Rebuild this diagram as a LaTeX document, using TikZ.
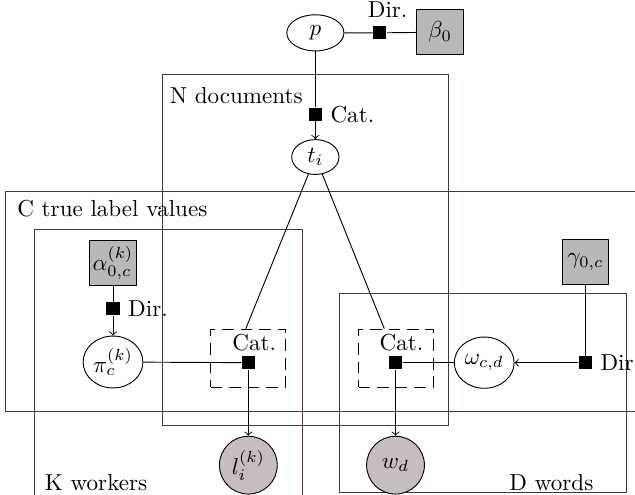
\documentclass[tikz,border=0pt]{standalone}
\usepackage{amsmath,amssymb}
\usepackage{tikz}
\usetikzlibrary{shapes.geometric}
\usetikzlibrary{arrows}

\definecolor{platecol}{RGB}{70,56,56}
\definecolor{hypfill}{RGB}{184,184,184}
\definecolor{obsfill}{RGB}{198,190,190}

\tikzset{
latent/.style={draw, ellipse, inner sep=0pt},
obs/.style={draw, circle, fill=obsfill, minimum size=0.88cm, inner sep=0pt},
hyper/.style={draw, rectangle, fill=hypfill, minimum width=0.71cm, minimum height=0.68cm, inner sep=0pt},
factor/.style={fill=black, rectangle, minimum size=0.2cm, inner sep=0pt},
plate/.style={draw=platecol},
gate/.style={draw, dash pattern=on 5pt off 3pt, minimum width=1.14cm, minimum height=0.88cm},
}

\begin{document}
\begin{tikzpicture}
\useasboundingbox (0,0) rectangle (9.665,-7.534);

\draw[plate] (2.47,-1.13) rectangle (6.82,-6.48);
\draw[plate] (0.09,-2.92) rectangle (9.9,-6.26);
\draw[plate] (0.53,-3.50) rectangle (4.61,-7.8);
\draw[plate] (5.16,-4.46) rectangle (9.54,-7.49);
\node[anchor=west] (ndocs) at (2.46,-1.45) {N documents};
\node[anchor=west] (clabels) at (0.14,-3.17) {C true label values};
\node[anchor=west] (kworkers) at (0.56,-7.34) {K workers};
\node[anchor=west] (dwords) at (7.63,-7.34) {D words};

% prior over the documents
\node[latent, minimum width=0.87cm, minimum height=0.55cm] (p) at (4.80,-0.50) {$p$};
\node[factor, label={[xshift=0.12cm]above:Dir.}] (fdir) at (5.78,-0.50) {};
\node[hyper] (beta) at (6.70,-0.49) {$\beta_0$};
\draw (p) -- (fdir) -- (beta);
\node[factor, label=right:{Cat.}] (fcat) at (4.80,-1.74) {};
\node[latent, minimum width=0.72cm, minimum height=0.53cm] (t) at (4.80,-2.39) {$t_i$};
\draw (p) -- (fcat);
\draw[->] (fcat) -- (t);

% workers
\node[hyper] (alpha) at (1.72,-4.00) {$\alpha_{0,c}^{(k)}$};
\node[factor, label=right:{Dir.}] (fdirl) at (1.72,-4.70) {};
\node[latent, minimum width=0.91cm, minimum height=0.79cm] (pi) at (1.72,-5.51) {$\pi_c^{(k)}$};
\draw (alpha) -- (fdirl);
\draw[->] (fdirl) -- (pi);
\node[gate] (gl) at (3.78,-5.45) {};
\node[factor] (fl) at (3.78,-5.52) {};
\node (catl) at (3.87,-5.21) {Cat.};
\node[obs] (l) at (3.78,-7.08) {$l_i^{(k)}$};
\draw (pi) -- (fl);
\draw (t) -- (gl.95);
\draw[->] (fl) -- (l);

% words
\node[gate] (gr) at (6.03,-5.45) {};
\node[factor] (fr) at (6.02,-5.52) {};
\node (catr) at (6.11,-5.21) {Cat.};
\node[obs] (w) at (6.02,-7.08) {$w_d$};
\node[latent, minimum width=0.91cm, minimum height=0.78cm] (omega) at (7.37,-5.52) {$\omega_{c,d}$};
\node[hyper] (gamma) at (8.91,-3.99) {$\gamma_{0,c}$};
\node[factor, label=right:{Dir}] (fdirr) at (8.91,-5.52) {};
\draw (t) -- (gr.112);
\draw (omega) -- (fr);
\draw[->] (fr) -- (w);
\draw (gamma) -- (fdirr);
\draw[->] (fdirr) -- (omega);
\end{tikzpicture}
\end{document}
